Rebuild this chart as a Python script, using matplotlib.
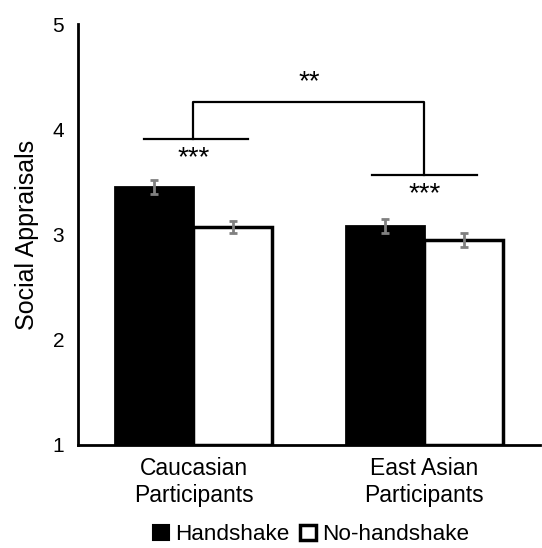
import numpy as np
import matplotlib.pyplot as plt
from matplotlib.patches import Patch

plt.rcParams['font.family'] = ['Liberation Sans', 'DejaVu Sans']

groups = ['Caucasian\nParticipants', 'East Asian\nParticipants']
conditions = ['Handshake', 'No-handshake']
handshake = [3.45, 3.08]
no_handshake = [3.07, 2.95]
handshake_err = [0.065, 0.07]
no_handshake_err = [0.055, 0.065]

x = np.arange(len(groups))
width = 0.34

fig = plt.figure(figsize=(5.42, 5.48), dpi=100)
ax = fig.add_axes([0.144, 0.188, 0.852, 0.768])

ax.bar(x - width / 2, np.array(handshake) - 1, width, bottom=1, color='black',
       edgecolor='black', linewidth=2)
ax.bar(x + width / 2, np.array(no_handshake) - 1, width, bottom=1, color='white',
       edgecolor='black', linewidth=2.5)
ax.errorbar(x - width / 2, handshake, yerr=handshake_err, fmt='none',
            ecolor='#808080', elinewidth=2, capsize=3, capthick=2)
ax.errorbar(x + width / 2, no_handshake, yerr=no_handshake_err, fmt='none',
            ecolor='#808080', elinewidth=2, capsize=3, capthick=2)

# significance brackets
lw = 1.6
ax.plot([-0.213, 0.234], [3.91, 3.91], color='black', lw=lw)
ax.plot([0.772, 1.228], [3.57, 3.57], color='black', lw=lw)
ax.plot([0, 0, 1, 1], [3.91, 4.26, 4.26, 3.57], color='black', lw=lw)
ax.text(0, 3.85, '***', ha='center', va='top', fontsize=20)
ax.text(1, 3.51, '***', ha='center', va='top', fontsize=20)
ax.text(0.5, 4.32, '**', ha='center', va='bottom', fontsize=20)

ax.set_xlim(-0.5, 1.5)
ax.set_ylim(1, 5)
ax.set_yticks([1, 2, 3, 4, 5])
ax.set_xticks(x)
ax.set_xticklabels(groups, fontsize=16.5)
ax.tick_params(axis='y', labelsize=15, length=0, pad=10)
ax.tick_params(axis='x', length=0, pad=9)
ax.set_ylabel('Social Appraisals', fontsize=18, labelpad=10)
ax.spines['top'].set_visible(False)
ax.spines['right'].set_visible(False)
ax.spines['left'].set_linewidth(2)
ax.spines['bottom'].set_linewidth(2)

handles = [Patch(facecolor='black', edgecolor='black', linewidth=1.5),
           Patch(facecolor='white', edgecolor='black', linewidth=2.5)]
fig.legend(handles, conditions, loc='lower center', bbox_to_anchor=(0.574, -0.032),
           ncol=2, frameon=False, fontsize=16.2, handlelength=0.7, handleheight=0.7,
           handletextpad=0.25, columnspacing=0.5)

fig.savefig('out.png', dpi=100)
